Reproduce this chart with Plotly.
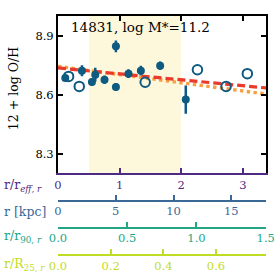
import plotly.graph_objects as go

# ---- data ----
filled_x = [0.118, 0.389, 0.551, 0.605, 0.755, 0.94, 0.94, 1.144, 1.345, 1.658, 2.074]
filled_y = [8.685, 8.722, 8.665, 8.702, 8.676, 8.846, 8.639, 8.707, 8.722, 8.747, 8.575]
filled_err = [0.012, 0.028, 0.02, 0.035, 0.022, 0.03, 0.02, 0.022, 0.025, 0.022, 0.072]

open_x = [0.172, 0.345, 1.415, 2.263, 2.728, 3.073]
open_y = [8.693, 8.642, 8.663, 8.727, 8.642, 8.707]

fit_x = [0.0, 3.38]
fit_red_y = [8.736, 8.634]
fit_orange_y = [8.744, 8.603]

shade_range = [0.5, 2.0]
title_text = "14831, log M*=11.2"

x_reff_range = [0, 3.376]
x_kpc_range = [0, 18.0]
x_r90_range = [0, 1.502]
x_r25_range = [0, 0.79]

reff_ticks = [0, 1, 2, 3]
kpc_ticks = [0, 5, 10, 15]
r90_ticks = [0.0, 0.5, 1.0, 1.5]
r25_ticks = [0.0, 0.2, 0.4, 0.6]

# ---- style ----
FONT = "DejaVu Serif"
C_PT = "#0e5a80"
C_PUR = "#4f2a82"
C_KPC = "#3a6897"
C_R90 = "#22a685"
C_R25 = "#bfdd24"

fig = go.Figure()

fig.add_trace(go.Scatter(x=fit_x, y=fit_orange_y, mode="lines",
                         line=dict(color="#f8a040", width=3.4, dash="dot"),
                         hoverinfo="skip", showlegend=False))
fig.add_trace(go.Scatter(x=fit_x, y=fit_red_y, mode="lines",
                         line=dict(color="#ea3a2c", width=3.2, dash="8px,4px"),
                         hoverinfo="skip", showlegend=False))
fig.add_trace(go.Scatter(x=filled_x, y=filled_y, mode="markers",
                         marker=dict(color=C_PT, size=8, symbol="circle"),
                         error_y=dict(type="data", array=filled_err, color=C_PT,
                                      thickness=2.5, width=0),
                         showlegend=False))
fig.add_trace(go.Scatter(x=open_x, y=open_y, mode="markers",
                         marker=dict(color=C_PT, size=9.5, symbol="circle-open",
                                     line=dict(width=2, color=C_PT)),
                         showlegend=False))

# dummy traces for extra axes
for ax in ["x2", "x3", "x4", "x5"]:
    fig.add_trace(go.Scatter(x=[None], y=[None], xaxis=ax, yaxis="y",
                             showlegend=False, hoverinfo="skip"))

fig.add_shape(type="rect", xref="x", yref="y domain", x0=shade_range[0], x1=shade_range[1],
              y0=0, y1=1, fillcolor="#fdf8dc", line=dict(width=0), layer="below")

tickfont = dict(family=FONT, size=11.5)


def free_axis(rng, vals, text, col, pos):
    return dict(range=rng, tickvals=vals, ticktext=text, ticks="inside", ticklen=5,
                tickwidth=1.5, tickcolor=col, showline=True, linecolor=col,
                linewidth=1.5, overlaying="x", anchor="free", position=pos,
                side="bottom", showgrid=False, zeroline=False, automargin=False,
                tickfont=dict(tickfont, color=col))


fig.update_layout(
    width=277, height=277,
    margin=dict(l=58, r=11, t=16, b=0, autoexpand=False),
    paper_bgcolor="white", plot_bgcolor="white",
    font=dict(family=FONT, color="black"),
    xaxis=dict(range=x_reff_range, tickvals=reff_ticks, ticks="inside", ticklen=5,
               tickwidth=1.5, tickcolor=C_PUR, showline=True, linecolor=C_PUR,
               linewidth=2, showgrid=False, zeroline=False, automargin=False,
               tickfont=dict(tickfont, color=C_PUR)),
    xaxis5=dict(range=x_reff_range, tickvals=reff_ticks, ticks="inside", ticklen=5,
                tickwidth=1.5, tickcolor="black", showline=True, linecolor="black",
                linewidth=2, side="top", overlaying="x", anchor="y", automargin=False,
                showticklabels=False, showgrid=False, zeroline=False),
    xaxis2=free_axis(x_kpc_range, kpc_ticks, [str(v) for v in kpc_ticks], C_KPC, 0.292),
    xaxis3=free_axis(x_r90_range, r90_ticks, ["%.1f" % v for v in r90_ticks], C_R90, 0.189),
    xaxis4=free_axis(x_r25_range, r25_ticks, ["%.1f" % v for v in r25_ticks], C_R25, 0.084),
    yaxis=dict(range=[8.2, 9.0], domain=[0.397, 1], tickvals=[8.3, 8.6, 8.9],
               ticktext=["8.3", "8.6", "8.9"], ticks="inside", ticklen=5, tickwidth=1.5,
               tickcolor="black", showline=True, linecolor="black", linewidth=2,
               mirror="ticks", showgrid=False, zeroline=False, automargin=False,
               tickfont=dict(tickfont, color="black")),
)

fig.add_annotation(text=title_text, xref="paper", yref="paper", x=0.053, y=0.958,
                   xanchor="left", yanchor="middle", showarrow=False,
                   font=dict(family=FONT, size=13.5, color="black"))
fig.add_annotation(text="12 + log O/H", xref="paper", yref="paper", x=-0.216, y=0.72,
                   xanchor="center", yanchor="middle", showarrow=False, textangle=-90,
                   font=dict(family=FONT, size=12.5, color="black"))

labels = [
    ("r/r<sub><i>eff, r</i></sub>", 0.352, C_PUR),
    ("r [kpc]", 0.250, C_KPC),
    ("r/r<sub>90, <i>r</i></sub>", 0.154, C_R90),
    ("r/R<sub>25, <i>r</i></sub>", 0.046, C_R25),
]
for txt, yy, col in labels:
    fig.add_annotation(text=txt, xref="paper", yref="paper", x=-0.269, y=yy,
                       xanchor="left", yanchor="middle", showarrow=False,
                       font=dict(family=FONT, size=12.5, color=col))

fig.write_html("out.html", config={"displayModeBar": False},
               post_script="document.body.style.margin='0px';")
